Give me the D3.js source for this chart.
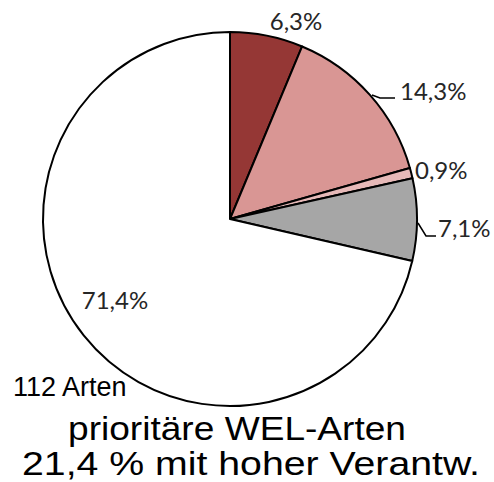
<html lang="de">
<head>
  <meta charset="utf-8">
  <title>prioritäre WEL-Arten</title>
  <script src="https://d3js.org/d3.v7.min.js"></script>
  <style>
    html, body { margin: 0; padding: 0; background: #fff; overflow: hidden; }
    svg { display: block; }
  </style>
</head>
<body>
  <svg width="494" height="482"></svg>
  <script>
    // slice data, clockwise from 12 o'clock
    const labels = ["6,3%", "14,3%", "0,9%", "7,1%", "71,4%"];
    const values = [6.3, 14.3, 0.9, 7.1, 71.4];
    const colors = ["#953735", "#D99694", "#E6B9B8", "#A6A6A6", "#FFFFFF"];
    // label anchor positions (x, baseline)
    const labelPos = [[296, 30], [400, 100], [415, 179], [438, 237], [115, 309]];
    // leader lines for outside labels (null = none)
    const leaders = [null, [[372, 95], [380, 98], [395, 98]], null, [[418, 223], [426, 236], [436, 236]], null];

    const cx = 230, cy = 219, r = 187;
    const svg = d3.select("svg");

    const pie = d3.pie().sort(null).value(d => d);
    const arc = d3.arc().innerRadius(0).outerRadius(r);

    const g = svg.append("g").attr("transform", `translate(${cx},${cy})`);
    g.selectAll("path")
      .data(pie(values))
      .enter()
      .append("path")
      .attr("d", arc)
      .attr("fill", (d, i) => colors[i])
      .attr("stroke", "#000")
      .attr("stroke-width", 2)
      .attr("stroke-linejoin", "round");

    const line = d3.line();
    leaders.forEach(l => {
      if (!l) return;
      svg.append("path")
        .attr("d", line(l))
        .attr("fill", "none")
        .attr("stroke", "#000")
        .attr("stroke-width", 1.5);
    });

    svg.selectAll("text.pct")
      .data(labels)
      .enter()
      .append("text")
      .attr("class", "pct")
      .attr("x", (d, i) => labelPos[i][0])
      .attr("y", (d, i) => labelPos[i][1])
      .attr("text-anchor", (d, i) => (i === 0 || i === 4) ? "middle" : "start")
      .attr("font-family", "Lato, 'Open Sans', sans-serif")
      .attr("font-size", 24)
      .attr("fill", "#262626")
      .text(d => d);

    svg.append("text")
      .attr("x", 13)
      .attr("y", 396)
      .attr("font-family", "'Liberation Sans', Arial, sans-serif")
      .attr("font-size", 27)
      .attr("fill", "#000")
      .text("112 Arten");

    const titleLines = ["prioritäre WEL-Arten", "21,4 % mit hoher Verantw."];
    const titleX = [68, 22];
    const titleW = [338, 458];
    svg.selectAll("text.title")
      .data(titleLines)
      .enter()
      .append("text")
      .attr("class", "title")
      .attr("x", (d, i) => titleX[i])
      .attr("y", (d, i) => 440 + i * 35)
      .attr("textLength", (d, i) => titleW[i])
      .attr("lengthAdjust", "spacingAndGlyphs")
      .attr("font-family", "'Liberation Sans', Arial, sans-serif")
      .attr("font-size", 34)
      .attr("fill", "#000")
      .text(d => d);
  </script>
</body>
</html>
